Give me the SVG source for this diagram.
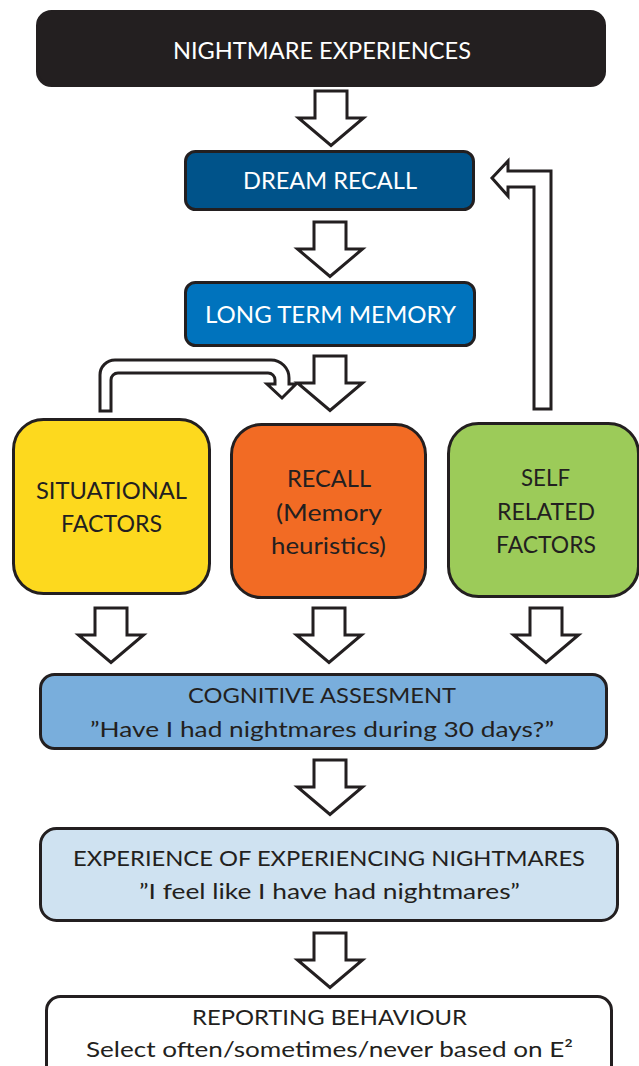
<svg xmlns="http://www.w3.org/2000/svg" xmlns:xlink="http://www.w3.org/1999/xlink" width="639" height="1066" viewBox="0 0 639 1066">
<style>
  .box { stroke: #231f20; stroke-width: 3; }
  .arr { fill: #ffffff; stroke: #231f20; stroke-width: 3; stroke-linejoin: miter; }
  text { font-family: "Lato", "Open Sans", "Liberation Sans", sans-serif; text-anchor: middle; }
  .w { fill: #ffffff; }
  .d { fill: #231f20; }
</style>
<defs>
  <path id="down" d="M-16,0 H16 V27 H32.5 L0,54.5 L-32.5,27 H-16 Z"/>
</defs>
<rect width="639" height="1066" fill="#ffffff"/>

<g id="connectors">
  <use xlink:href="#down" href="#down" class="arr" transform="translate(331,91)"/>
  <use xlink:href="#down" href="#down" class="arr" transform="translate(330,222)"/>
  <use xlink:href="#down" href="#down" class="arr" transform="translate(330,356)"/>
  <use xlink:href="#down" href="#down" class="arr" transform="translate(111,608)"/>
  <use xlink:href="#down" href="#down" class="arr" transform="translate(329,608)"/>
  <use xlink:href="#down" href="#down" class="arr" transform="translate(546,608)"/>
  <use xlink:href="#down" href="#down" class="arr" transform="translate(330,760)"/>
  <use xlink:href="#down" href="#down" class="arr" transform="translate(330,933)"/>
  <path class="arr" d="M100,411 V375 A15,15 0 0 1 115,360 H271 A18,18 0 0 1 289,378 V384 H296 L282,398 L267,384 H275 V380 A7,7 0 0 0 268,373 H118 A7,7 0 0 0 111,380 V411 Z"/>
  <path class="arr" d="M551,409 V171 H508 V161 L492,178 L508,196 V187 H534 V409 Z"/>
</g>

<g id="nightmare-experiences">
  <rect class="box" x="37.5" y="11.5" width="567" height="74" rx="14" fill="#231f20"/>
  <text class="w" x="322" y="59" font-size="22.5" textLength="298" lengthAdjust="spacingAndGlyphs">NIGHTMARE EXPERIENCES</text>
</g>

<g id="dream-recall">
  <rect class="box" x="185.5" y="151.5" width="288" height="58" rx="10" fill="#00538a"/>
  <text class="w" x="330" y="189" font-size="23" textLength="174" lengthAdjust="spacingAndGlyphs">DREAM RECALL</text>
</g>

<g id="long-term-memory">
  <rect class="box" x="185.5" y="282.5" width="289" height="63" rx="10" fill="#0073bd"/>
  <text class="w" x="330.5" y="323" font-size="23" textLength="251" lengthAdjust="spacingAndGlyphs">LONG TERM MEMORY</text>
</g>

<g id="situational-factors">
  <rect class="box" x="13.5" y="419.5" width="196" height="174" rx="30" fill="#fdd91e"/>
  <text class="d" x="111.5" y="499" font-size="24" textLength="151" lengthAdjust="spacingAndGlyphs">SITUATIONAL</text>
  <text class="d" x="111.5" y="532" font-size="24" textLength="101" lengthAdjust="spacingAndGlyphs">FACTORS</text>
</g>

<g id="recall">
  <rect class="box" x="231.5" y="424.5" width="194" height="173" rx="30" fill="#f26b24"/>
  <text class="d" x="329" y="487" font-size="24" textLength="84" lengthAdjust="spacingAndGlyphs">RECALL</text>
  <text class="d" x="329" y="521" font-size="24" textLength="106" lengthAdjust="spacingAndGlyphs">(Memory</text>
  <text class="d" x="328.5" y="554" font-size="24" textLength="115" lengthAdjust="spacingAndGlyphs">heuristics)</text>
</g>

<g id="self-related-factors">
  <rect class="box" x="448.5" y="423.5" width="190" height="173" rx="30" fill="#9ccb59"/>
  <text class="d" x="545.5" y="486" font-size="24" textLength="49" lengthAdjust="spacingAndGlyphs">SELF</text>
  <text class="d" x="546" y="520" font-size="24" textLength="98" lengthAdjust="spacingAndGlyphs">RELATED</text>
  <text class="d" x="546" y="553" font-size="24" textLength="100" lengthAdjust="spacingAndGlyphs">FACTORS</text>
</g>

<g id="cognitive-assesment">
  <rect class="box" x="40.5" y="674.5" width="566" height="74" rx="14" fill="#79aedc"/>
  <text class="d" x="322" y="703" font-size="21.5" textLength="268" lengthAdjust="spacingAndGlyphs">COGNITIVE ASSESMENT</text>
  <text class="d" x="322" y="737" font-size="21.5" textLength="464" lengthAdjust="spacingAndGlyphs">”Have I had nightmares during 30 days?”</text>
</g>

<g id="experience-of-experiencing">
  <rect class="box" x="40.5" y="828.5" width="577" height="92" rx="16" fill="#cfe2f1"/>
  <text class="d" x="329" y="866" font-size="21.5" textLength="512" lengthAdjust="spacingAndGlyphs">EXPERIENCE OF EXPERIENCING NIGHTMARES</text>
  <text class="d" x="329.5" y="899" font-size="21.5" textLength="381" lengthAdjust="spacingAndGlyphs">”I feel like I have had nightmares”</text>
</g>

<g id="reporting-behaviour">
  <rect class="box" x="46.5" y="996.5" width="565" height="90" rx="14" fill="#ffffff"/>
  <text class="d" x="329.5" y="1025" font-size="21.5" textLength="275" lengthAdjust="spacingAndGlyphs">REPORTING BEHAVIOUR</text>
  <text class="d" x="329.5" y="1057" font-size="21.5" textLength="487" lengthAdjust="spacingAndGlyphs">Select often/sometimes/never based on E²</text>
</g>
</svg>
